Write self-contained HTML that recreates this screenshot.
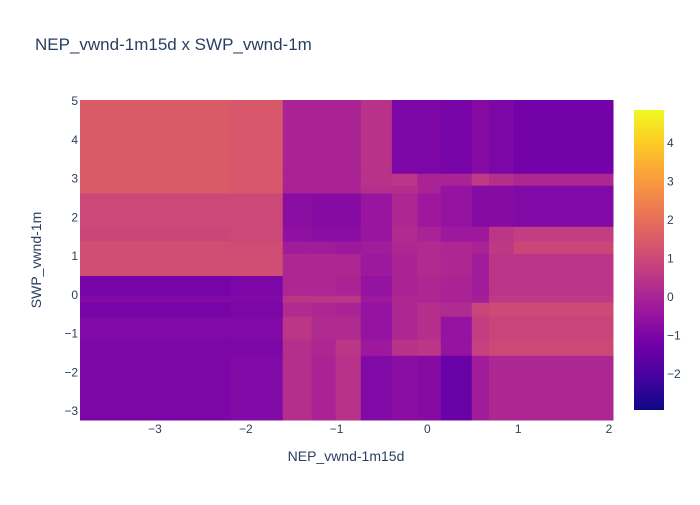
<!DOCTYPE html>
<html><head><meta charset="utf-8"><style>
body{margin:0;background:#fff;font-family:"Liberation Sans",sans-serif}
svg text{fill:#2a3f5f;font-family:"Liberation Sans",sans-serif}
</style></head><body>
<svg id="c" width="700" height="500">
<defs><linearGradient id="cb" x1="0" y1="1" x2="0" y2="0">
<stop offset="0" stop-color="#0d0887"/><stop offset="0.111" stop-color="#46039f"/><stop offset="0.222" stop-color="#7201a8"/><stop offset="0.333" stop-color="#9c179e"/><stop offset="0.444" stop-color="#bd3786"/><stop offset="0.556" stop-color="#d8576b"/><stop offset="0.667" stop-color="#ed7953"/><stop offset="0.778" stop-color="#fb9f3a"/><stop offset="0.889" stop-color="#fdca26"/><stop offset="1" stop-color="#f0f921"/></linearGradient></defs>
<text x="35" y="50" font-size="17">NEP_vwnd-1m15d x SWP_vwnd-1m</text>
<g id="cells"></g>
<g id="xt"></g>
<g id="yt"></g>
<text x="346" y="461" font-size="14" text-anchor="middle">NEP_vwnd-1m15d</text>
<text transform="translate(41,260) rotate(-90)" font-size="14" text-anchor="middle">SWP_vwnd-1m</text>
<rect x="634" y="110" width="30" height="300" fill="url(#cb)"/>
<g id="ct"></g>
</svg>
<script>
const xEdges=[-3.826,-2.17,-1.593,-1.275,-1.01,-0.734,-0.391,-0.11,0.147,0.489,0.678,0.951,2.044];
const yEdges=[-3.23,-1.56,-1.14,-0.55,-0.19,-0.01,0.50,1.07,1.39,1.77,2.63,2.83,3.14,5.03];
const zRows=[
[-1.0,-0.9,0.3,0.0,0.4,-0.9,-0.7,-0.8,-1.4,-0.2,0.1,0.1],
[-1.0,-1.0,0.3,0.1,0.5,-0.3,0.4,0.5,-0.5,0.8,1.0,1.0],
[-0.9,-0.9,0.5,0.2,0.2,-0.5,0.1,0.3,-0.5,0.7,0.9,0.9],
[-1.1,-1.0,0.2,0.1,0.0,-0.5,0.1,0.3,0.2,0.9,1.05,1.05],
[-0.9,-0.9,0.5,0.5,0.5,-0.3,0.1,0.1,0.0,-0.1,0.6,0.6],
[-1.1,-1.0,0.1,0.1,0.0,-0.5,0.0,0.1,0.0,-0.2,0.45,0.45],
[1.15,1.15,0.1,0.1,0.1,-0.3,0.0,0.2,0.1,-0.2,0.45,0.45],
[1.15,1.1,-0.2,-0.2,-0.3,-0.2,0.1,0.2,0.1,0.0,0.55,0.95],
[0.95,1.0,-0.6,-0.7,-0.7,-0.4,0.2,0.0,-0.3,-0.3,0.5,0.7],
[1.0,1.0,-0.7,-0.8,-0.8,-0.4,0.1,-0.3,-0.5,-0.8,-0.8,-0.9],
[1.5,1.4,0.0,0.0,0.0,0.3,0.3,0.0,-0.5,-0.8,-0.8,-0.9],
[1.5,1.4,0.0,0.0,0.0,0.4,0.5,0.0,0.0,0.6,0.3,0.1],
[1.5,1.4,0.0,0.0,0.0,0.4,-1.0,-1.0,-1.1,-0.8,-1.0,-1.2]
];
const xTicks=[-3,-2,-1,0,1,2];
const yTicks=[-3,-2,-1,0,1,2,3,4,5];
const cTicks=[-2,-1,0,1,2,3,4];
const zmin=-2.93,zmax=4.86;
const NS='http://www.w3.org/2000/svg';
const X0=80,X1=613,Y0=420,Y1=100;
const xs=v=>X0+(v-xEdges[0])/(xEdges[xEdges.length-1]-xEdges[0])*(X1-X0);
const ys=v=>Y0-(v-yEdges[0])/(yEdges[yEdges.length-1]-yEdges[0])*(Y0-Y1);
const cs=v=>410-(v-zmin)/(zmax-zmin)*300;
const stops=["#0d0887","#46039f","#7201a8","#9c179e","#bd3786","#d8576b","#ed7953","#fb9f3a","#fdca26","#f0f921"].map(h=>[1,3,5].map(i=>parseInt(h.substr(i,2),16)));
function col(z){let t=Math.max(0,Math.min(1,(z-zmin)/(zmax-zmin)))*9;let i=Math.min(8,Math.floor(t)),f=t-i;
return 'rgb('+stops[i].map((c,k)=>Math.round(c+(stops[i+1][k]-c)*f)).join(',')+')';}
const g=document.getElementById('cells');
zRows.forEach((row,r)=>row.forEach((z,c)=>{
const e=document.createElementNS(NS,'rect');
const x=xs(xEdges[c]),x2=xs(xEdges[c+1]),y=ys(yEdges[r+1]),y2=ys(yEdges[r]);
e.setAttribute('x',x);e.setAttribute('y',y);e.setAttribute('width',x2-x+0.5);e.setAttribute('height',y2-y+0.5);
e.setAttribute('fill',col(z));


g.appendChild(e);}));
function txt(p,x,y,s,a){const t=document.createElementNS(NS,'text');t.setAttribute('x',x);t.setAttribute('y',y);t.setAttribute('font-size',12);t.setAttribute('text-anchor',a);t.textContent=s;


p.appendChild(t);}
const lab=v=>v<0?'\u2212'+(-v):''+v;
xTicks.forEach(v=>txt(document.getElementById('xt'),xs(v),433,lab(v),'middle'));
yTicks.forEach(v=>txt(document.getElementById('yt'),78,ys(v)+4,lab(v),'end'));
cTicks.forEach(v=>txt(document.getElementById('ct'),667,cs(v)+4,lab(v),'start'));
</script>
</body></html>
